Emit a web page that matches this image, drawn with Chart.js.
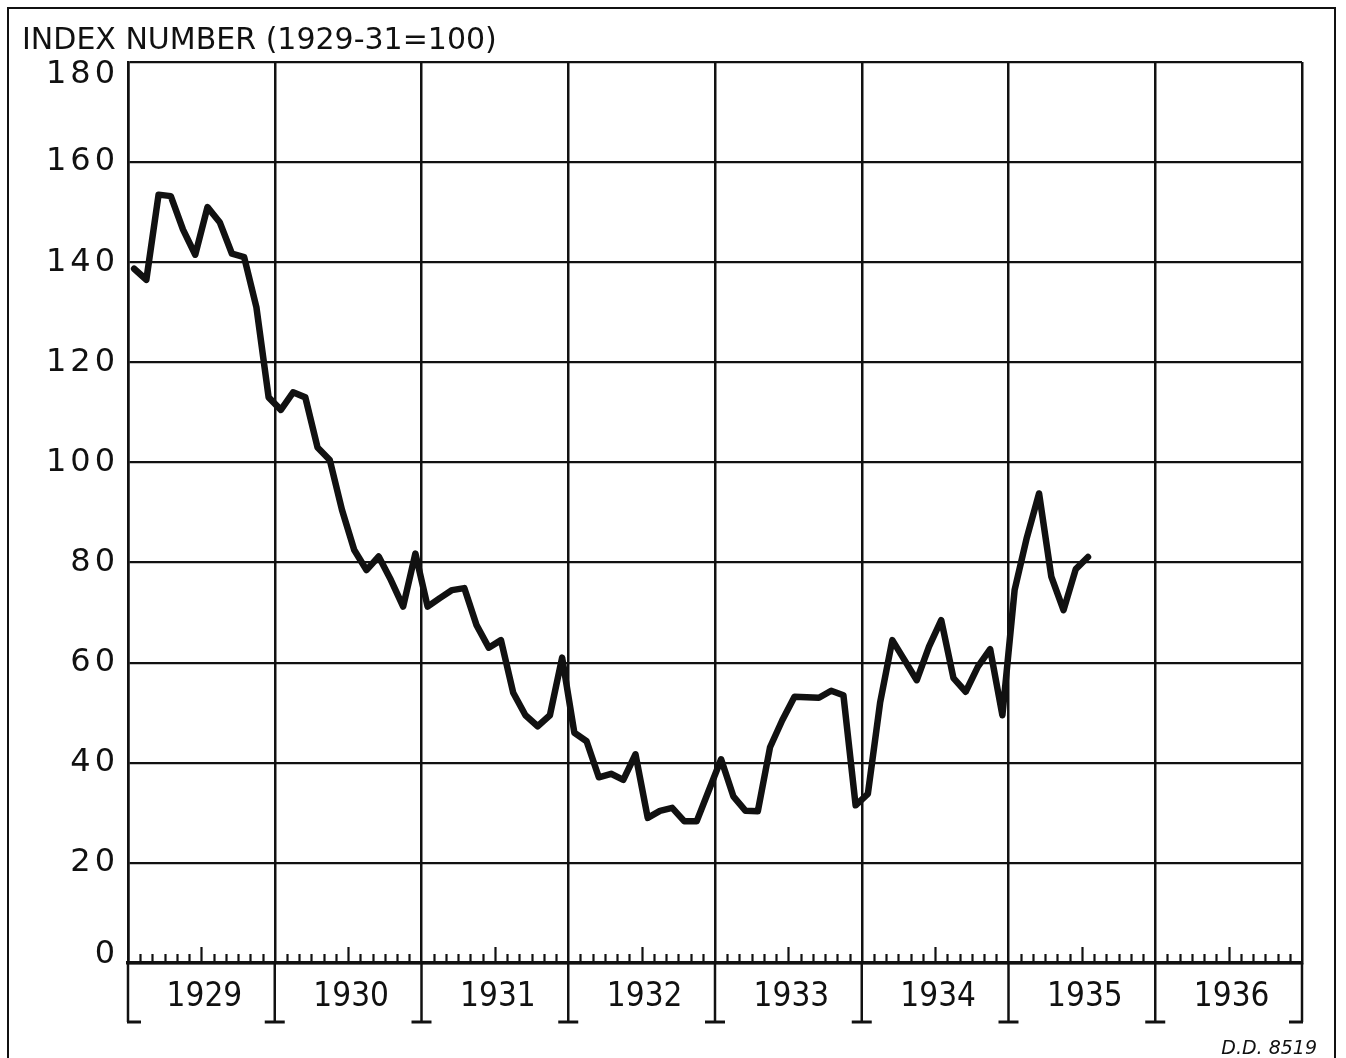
<!DOCTYPE html>
<html>
<head>
<meta charset="utf-8">
<script src="https://cdn.jsdelivr.net/npm/chart.js@4.4.1/dist/chart.umd.min.js"></script>
<style>
  html, body { margin: 0; padding: 0; background: #fff; }
  canvas { display: block; }
</style>
</head>
<body>
<canvas id="c" width="1346" height="1058" style="width:1346px;height:1058px"></canvas>
<script>
// ---- data (monthly index numbers, 1929-31 = 100) ----
const years = ['1929', '1930', '1931', '1932', '1933', '1934', '1935', '1936'];
const yTicks = [0, 20, 40, 60, 80, 100, 120, 140, 160, 180];
const v1929 = [138.7, 136.5, 153.5, 153.2, 146.5, 141.5, 151, 148, 141.7, 141, 131, 113];
const v1930 = [110.5, 114, 113, 103, 100.5, 90.5, 82.5, 78.5, 81.2, 76.5, 71.2, 81.8];
const v1931 = [71.2, 72.9, 74.5, 74.9, 67.5, 63, 64.5, 54, 49.5, 47.3, 49.5, 61];
const v1932 = [46, 44.3, 37.1, 37.8, 36.6, 41.7, 29, 30.4, 31, 28.3, 28.3, 34.5];
const v1933 = [40.7, 33.3, 30.4, 30.3, 43.1, 48.5, 53.2, 53.1, 53, 54.4, 53.5, 31.5];
const v1934 = [33.8, 52, 64.5, 60.5, 56.5, 63.2, 68.5, 56.9, 54.2, 59.2, 62.7, 49.5];
const v1935 = [74.5, 85, 93.8, 77.2, 70.5, 78.7, 81.1];
const titleText = 'INDEX NUMBER (1929-31=100)';
const noteText = 'D.D. 8519';

const allValues = [].concat(v1929, v1930, v1931, v1932, v1933, v1934, v1935);
const points = allValues.map((v, i) => ({ x: i + 0.5, y: v }));

const INK = '#111';

const decor = {
  id: 'decor',
  afterDraw(chart) {
    const { ctx, scales: { x, y } } = chart;
    ctx.save();
    ctx.letterSpacing = '0px';
    ctx.strokeStyle = INK;
    ctx.fillStyle = INK;

    // outer frame
    ctx.lineWidth = 2;
    ctx.beginPath();
    ctx.moveTo(8, 1058); ctx.lineTo(8, 8); ctx.lineTo(1335, 8); ctx.lineTo(1335, 1058);
    ctx.stroke();

    // title
    ctx.font = '30px "DejaVu Sans"';
    ctx.textAlign = 'left';
    ctx.textBaseline = 'alphabetic';
    ctx.fillText(titleText, 22, 49);

    const base = y.getPixelForValue(0);

    // monthly minor ticks (upward from baseline)
    ctx.lineWidth = 2.2;
    ctx.beginPath();
    for (let m = 1; m < years.length * 12; m++) {
      if (m % 12 === 0) continue;
      const px = Math.round(x.getPixelForValue(m)) + 0.5;
      const h = (m % 12 === 6) ? 16 : 9;
      ctx.moveTo(px, base);
      ctx.lineTo(px, base - h);
    }
    ctx.stroke();

    // year brackets below the axis
    const footY = 1022;
    ctx.lineWidth = 2.5;
    for (let i = 0; i <= years.length; i++) {
      const px = x.getPixelForValue(i * 12);
      ctx.beginPath();
      ctx.moveTo(px, base);
      ctx.lineTo(px, footY);
      ctx.stroke();
      ctx.lineWidth = 3;
      ctx.beginPath();
      if (i === 0) { ctx.moveTo(px - 1, footY); ctx.lineTo(px + 13, footY); }
      else if (i === years.length) { ctx.moveTo(px - 13, footY); ctx.lineTo(px + 1, footY); }
      else { ctx.moveTo(px - 10, footY); ctx.lineTo(px + 10, footY); }
      ctx.stroke();
      ctx.lineWidth = 2.5;
    }

    // year labels
    ctx.font = '33px "DejaVu Sans Condensed", "Liberation Sans Narrow", "DejaVu Sans"';
    ctx.textAlign = 'center';
    ctx.textBaseline = 'middle';
    years.forEach((yr, i) => {
      ctx.fillText(yr, x.getPixelForValue(i * 12 + 6) + 3, 997);
    });

    // y tick labels
    ctx.font = '32px "DejaVu Sans"';
    ctx.letterSpacing = '4px';
    ctx.textAlign = 'right';
    ctx.textBaseline = 'middle';
    yTicks.forEach(t => {
      let py = y.getPixelForValue(t);
      if (t === 180) py += 13;
      if (t === 0) py -= 8;
      ctx.fillText(String(t), x.left - 9, py);
    });
    ctx.letterSpacing = '0px';

    // note
    ctx.font = 'italic 19px "DejaVu Sans"';
    ctx.textAlign = 'right';
    ctx.textBaseline = 'alphabetic';
    ctx.fillText(noteText, 1317, 1054);

    ctx.restore();
  }
};

new Chart(document.getElementById('c'), {
  type: 'line',
  data: {
    datasets: [{
      data: points,
      borderColor: INK,
      borderWidth: 6.5,
      pointRadius: 0,
      tension: 0,
      borderJoinStyle: 'round',
      borderCapStyle: 'round',
      fill: false
    }]
  },
  options: {
    responsive: false,
    animation: false,
    devicePixelRatio: 1,
    layout: { padding: { top: 62, right: 44, left: 0, bottom: 0 } },
    plugins: { legend: { display: false }, tooltip: { enabled: false }, title: { display: false } },
    scales: {
      x: {
        type: 'linear', min: 0, max: 96,
        ticks: { display: false, stepSize: 12 },
        grid: { color: INK, lineWidth: 2.5, drawTicks: false },
        border: { color: INK, width: 3.5 },
        afterFit(s) { s.height = 95; }
      },
      y: {
        min: 0, max: 180,
        ticks: { display: false, stepSize: 20 },
        grid: { color: INK, lineWidth: 2.2, drawTicks: false },
        border: { color: INK, width: 2.5 },
        afterFit(s) { s.width = 128; }
      }
    }
  },
  plugins: [decor]
});
</script>
</body>
</html>
